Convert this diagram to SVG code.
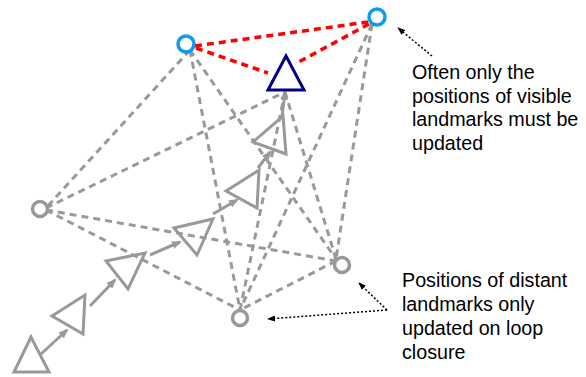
<svg xmlns="http://www.w3.org/2000/svg" width="586" height="377" viewBox="0 0 586 377">
<defs>
<style>
.dash{fill:none;stroke:#999999;stroke-width:3;stroke-dasharray:7 5}
.red{fill:none;stroke:#ff0000;stroke-width:3.5;stroke-dasharray:7 5}
.lmb{fill:#ffffff;stroke:#0d9bf2;stroke-width:3.5}
.lmg{fill:#ffffff;stroke:#999999;stroke-width:3.5}
.pose{fill:none;stroke:#999999;stroke-width:3;stroke-linejoin:miter}
.cur{fill:none;stroke:#000080;stroke-width:3}
.mv{fill:none;stroke:#999999;stroke-width:3;marker-end:url(#ah)}
.note{fill:none;stroke:#000000;stroke-width:1.5;stroke-dasharray:2 2;marker-end:url(#nh)}
.txt{font-family:"Liberation Sans",Arial,sans-serif;font-size:19.7px;fill:#000000}
</style>
<marker id="ah" viewBox="0 0 10 8" refX="8" refY="4" markerWidth="10" markerHeight="8" markerUnits="userSpaceOnUse" orient="auto">
<path d="M0,0 L10,4 L0,8 z" fill="#999999"/>
</marker>
<marker id="nh" viewBox="0 0 8 6" refX="7" refY="3" markerWidth="8" markerHeight="6" markerUnits="userSpaceOnUse" orient="auto">
<path d="M0,0 L8,3 L0,6 z" fill="#000000"/>
</marker>
</defs>
<g id="connectors">
<path class="dash" d="M190,50 L46,208"/>
<path class="dash" d="M190,50 L240,310"/>
<path class="dash" d="M190,50 L336,259"/>
<path class="dash" d="M372,24 L240,310"/>
<path class="dash" d="M372,24 L336,259"/>
<path class="dash" d="M46,208 L285,92"/>
<path class="dash" d="M46,210 L336,261"/>
<path class="dash" d="M46,210 L240,310"/>
<path class="dash" d="M336,261 L240,310"/>
<path class="dash" d="M240,310 L285,92"/>
<path class="dash" d="M336,259 L285,92"/>
<path class="red" d="M195,46 L368,22"/>
<path class="red" d="M196,48 L268,73"/>
<path class="red" d="M369,24 L295,64"/>
<path class="mv" d="M41,354 L67,330"/>
<path class="mv" d="M90,306 L115,280"/>
<path class="mv" d="M150,255 L180,242"/>
<path class="mv" d="M213,214 L237,200"/>
<path class="mv" d="M258,168 L270,152"/>
<path class="mv" d="M282,116 L285,92"/>
<path class="note" d="M432,56 L398,28"/>
<path class="note" d="M387,310 L359,283"/>
<path class="note" d="M387,310 L268,319"/>
</g>
<g id="L1"><circle class="lmb" cx="186" cy="44" r="8"/></g>
<g id="L2"><circle class="lmb" cx="377" cy="17" r="8"/></g>
<g id="L3"><circle class="lmg" cx="40" cy="209" r="7.5"/></g>
<g id="L4"><circle class="lmg" cx="342" cy="265" r="7.5"/></g>
<g id="L5"><circle class="lmg" cx="240" cy="318" r="7.5"/></g>
<g id="T0"><polygon class="pose" points="31,337 14,372 49,372"/></g>
<g id="T1"><polygon class="pose" points="52,316 85,295 83,334"/></g>
<g id="T2"><polygon class="pose" points="106,261 145,253 128,289"/></g>
<g id="T3"><polygon class="pose" points="174,228 213,219 197,255"/></g>
<g id="T4"><polygon class="pose" points="226,191 259,170 257,208"/></g>
<g id="T5"><polygon class="pose" points="253,142 283,116 286,154"/></g>
<g id="T6"><polygon class="cur" points="286,56 268,90 304,90"/></g>
<g id="note1">
<text class="txt" x="412" y="79">Often only the</text>
<text class="txt" x="412" y="102.5">positions of visible</text>
<text class="txt" x="412" y="126">landmarks must be</text>
<text class="txt" x="412" y="149.5">updated</text>
</g>
<g id="note2">
<text class="txt" x="402" y="287">Positions of distant</text>
<text class="txt" x="402" y="311">landmarks only</text>
<text class="txt" x="402" y="335">updated on loop</text>
<text class="txt" x="402" y="359">closure</text>
</g>
</svg>
